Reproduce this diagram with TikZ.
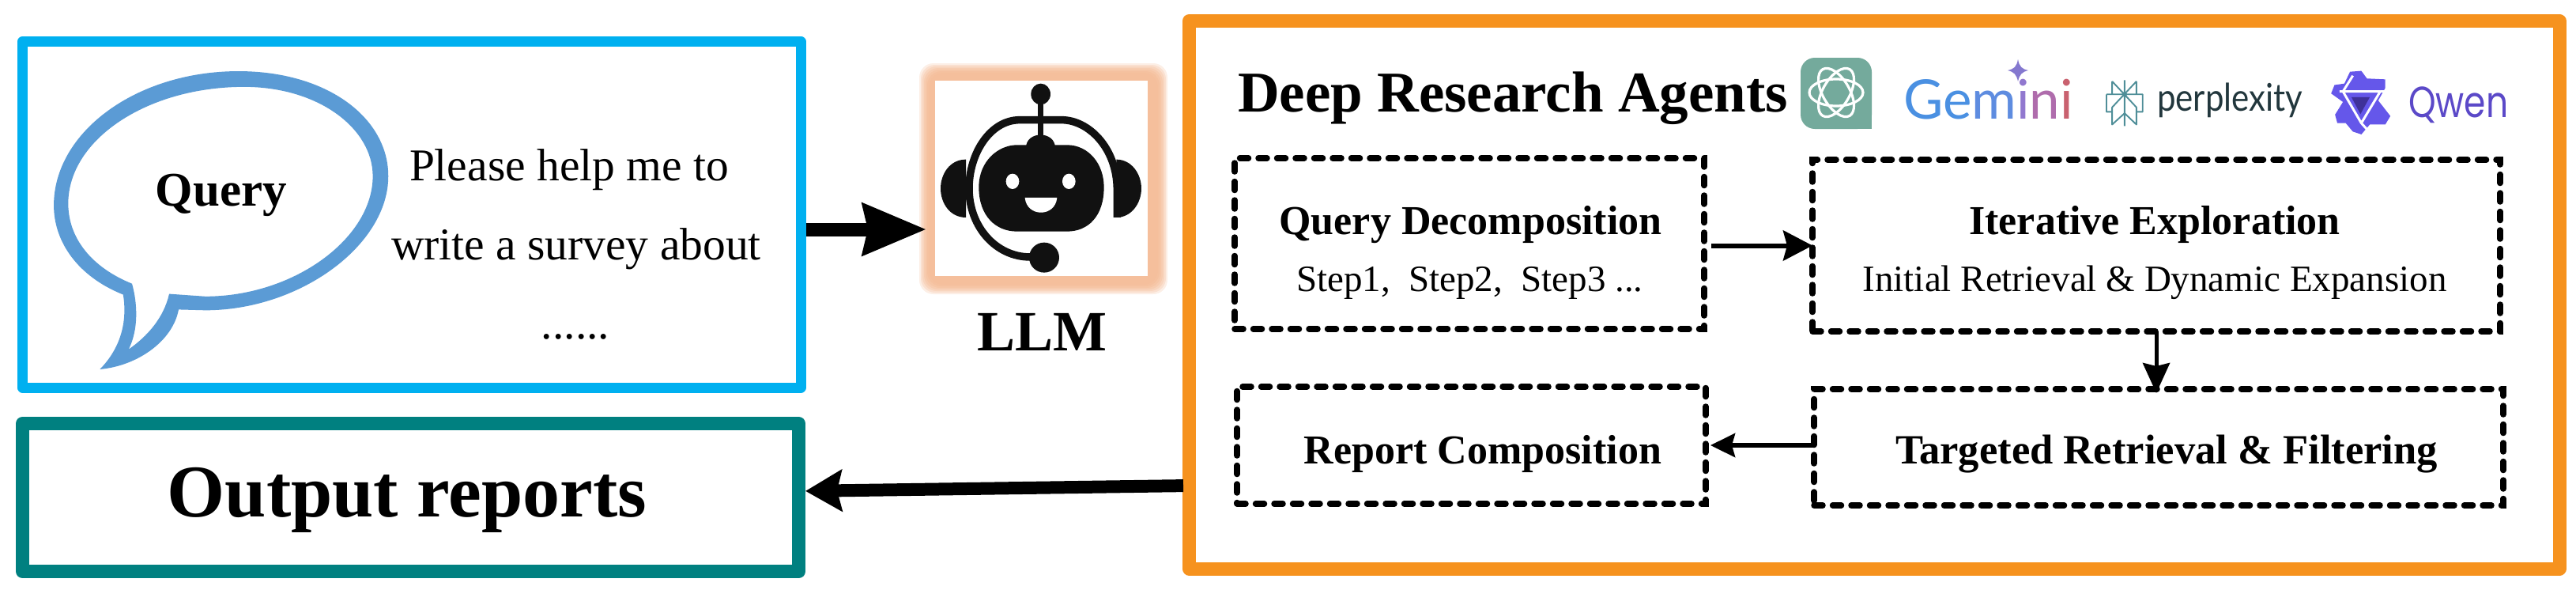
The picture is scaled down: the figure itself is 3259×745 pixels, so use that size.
\documentclass[tikz,border=0pt]{standalone}
\usepackage{fontspec}
\usepackage{graphicx}
\setmainfont{Liberation Serif}
\newfontfamily\lato{Lato}
\newfontfamily\popp{Poppins}
\usetikzlibrary{arrows.meta}
\newcommand\fsz[1]{\fontsize{#1}{#1}\selectfont}
\definecolor{qblue}{HTML}{00B0F0}
\definecolor{qgreen}{HTML}{008080}
\definecolor{qorange}{HTML}{F6921E}
\definecolor{bubble}{HTML}{5B9BD5}
\definecolor{halo}{HTML}{F5BF9C}
\definecolor{robot}{HTML}{111111}
\definecolor{gptc}{HTML}{74AA9C}
\definecolor{perpc}{HTML}{22373D}
\definecolor{perpi}{HTML}{4F8E98}
\definecolor{qwenc}{HTML}{6557EA}
\definecolor{qwent}{HTML}{5B49C8}
\definecolor{qwend}{HTML}{3F3199}
\definecolor{gemstar}{HTML}{8478CF}
\tikzset{
  panel/.style={draw=#1,rectangle,fill=white,inner sep=0,outer sep=0,line join=round},
  dashbox/.style={draw=black,rectangle,inner sep=0,outer sep=0,line width=7.5pt,line cap=round,dash pattern=on 11pt off 12.5pt},
  txt/.style={inner sep=0,outer sep=0,anchor=base},
  txtl/.style={inner sep=0,outer sep=0,anchor=base west},
  bigarrow/.style={line width=17pt,-{Stealth[length=80pt,width=64pt,inset=6pt]}},
  retarrow/.style={line width=16pt,-{Stealth[length=46pt,width=52pt,inset=6pt]}},
  smallarrow/.style={line width=6pt,-{Stealth[length=37pt,width=38pt,inset=5pt]}},
  downarrow/.style={line width=5pt,-{Stealth[length=38pt,width=34pt,inset=4pt]}},
  leftarrow/.style={line width=5.5pt,-{Stealth[length=31pt,width=30pt,inset=4pt]}},
}
\begin{document}
\begin{tikzpicture}[x=1pt,y=-1pt]
\useasboundingbox (0,0) rectangle (3259,745);

% panels
\node[panel=qblue,line width=13pt,minimum width=984.5pt,minimum height=437.5pt] (query) at (520.75,271.25) {};
\node[panel=qgreen,line width=17pt,minimum width=982pt,minimum height=187pt] (output) at (519.5,629) {};
\node[panel=qorange,line width=17pt,minimum width=1733.5pt,minimum height=692.5pt] (agents) at (2371.25,372.75) {};

% speech bubble
\begin{scope}[xscale=0.7018,yscale=0.4608,shift={(0,43.4)}]
\fill[bubble,even odd rule]
 (180,970) .. controls (225,900) and (228,820) .. (222,765)
 .. controls (140,715) and (97,620) .. (97,520)
 .. controls (97,320) and (245,152) .. (430,152)
 .. controls (590,152) and (700,280) .. (700,440)
 .. controls (700,630) and (540,808) .. (370,808)
 -- (322,806) .. controls (312,890) and (250,960) .. (180,970) -- cycle
 (232,915) .. controls (250,860) and (248,790) .. (238,735)
 .. controls (165,690) and (123,610) .. (123,515)
 .. controls (123,340) and (265,195) .. (440,195)
 .. controls (575,195) and (672,310) .. (672,440)
 .. controls (672,610) and (530,770) .. (370,770)
 -- (305,763) .. controls (295,830) and (265,880) .. (232,915) -- cycle;
\end{scope}

\node[txt,font=\fsz{61}\bfseries] (qlabel) at (280,260) {Query};
\node[txtl,font=\fsz{57.5}] (q1) at (518,228) {Please help me to};
\node[txtl,font=\fsz{57.5}] (q2) at (495,328) {write a survey about};
\node[txt,font=\fsz{57.5}] (q3) at (728,428) {......};
\node[txt,font=\fsz{94}\bfseries] (outlabel) at (515,653) {Output reports};

% LLM halo and image
\foreach \e/\o in {0/0.25,2/0.3,4/0.35,6/0.4,8/0.5,10/0.7,12/1}{
  \fill[halo,opacity=\o,rounded corners=18pt] (1163+\e,80+\e) rectangle (1477-\e,372-\e);
}
\node[fill=white,inner sep=0,outer sep=0,minimum width=269pt,minimum height=247pt] (llm) at (1317.5,225.5) {};
\begin{scope}[shift={(1130,70)},xscale=0.3333,yscale=0.3333]
 \fill[robot] (560,147) ellipse [x radius=37,y radius=40];
 \draw[robot,line width=7pt] (560,170) -- (560,320);
 \fill[robot] (505,350) .. controls (505,285) and (615,285) .. (615,350) -- cycle;
 \fill[robot] (325,500) .. controls (325,400) and (400,340) .. (470,340) -- (660,340) .. controls (740,340) and (800,410) .. (800,500)
   .. controls (800,610) and (740,668) .. (660,668) -- (470,668) .. controls (390,668) and (325,610) .. (325,500) -- cycle;
 \fill[white] (453,478) ellipse [x radius=25,y radius=29];
 \fill[white] (667,478) ellipse [x radius=25,y radius=29];
 \fill[white] (500,540) -- (622,540) .. controls (615,615) and (507,615) .. (500,540) -- cycle;
 \draw[robot,line width=9.5pt] (850,615) -- (850,510) .. controls (850,350) and (740,245) .. (640,245) -- (480,245)
   .. controls (370,245) and (288,370) .. (288,505) .. controls (288,650) and (390,765) .. (520,765) -- (560,765);
 \fill[robot] (276,395) .. controls (215,395) and (180,450) .. (180,505) .. controls (180,560) and (215,615) .. (276,615) -- cycle;
 \fill[robot] (847,395) .. controls (905,395) and (942,450) .. (942,505) .. controls (942,560) and (905,615) .. (847,615) -- cycle;
 \fill[robot] (573,767) circle (57);
\end{scope}
\node[txt,font=\fsz{72}\bfseries] (llmlabel) at (1318,443) {LLM};

% title
\node[txtl,font=\fsz{73}\bfseries] (title) at (1566,141) {Deep Research Agents};

% ChatGPT logo
\fill[gptc,rounded corners=18pt] (2278,73) rectangle (2368,163);
\fill[gptc] (2345,140) rectangle (2368,163);
\foreach \r in {0,60,120}{
  \draw[white,line width=3.2pt,rotate around={\r:(2323,117)}] (2323,117) ellipse [x radius=34,y radius=17];
}
% Gemini logo
\node[txtl,font=\fsz{69}\lato] (gemini) at (2408,150) {\textcolor[HTML]{4A90E2}{Ge}\textcolor[HTML]{5E8CE0}{m}\textcolor[HTML]{9178CF}{i}\textcolor[HTML]{AF6CAC}{n}\textcolor[HTML]{C9616F}{i}};
\fill[gemstar] (2553,75) .. controls (2555,85) and (2558,87) .. (2566,89) .. controls (2558,91) and (2555,94) .. (2553,103)
  .. controls (2551,94) and (2548,91) .. (2540,89) .. controls (2548,87) and (2551,85) .. (2553,75) -- cycle;
% Perplexity logo
\begin{scope}[shift={(2650,70)},xscale=0.357,yscale=0.357]
 \draw[perpi,line width=1.9pt,line join=round]
   (106,88) -- (106,250)
   (62,92) -- (148,184) -- (148,245) -- (106,205) -- (62,245) -- (62,184) -- (148,92)
   (62,92) -- (62,138) (148,92) -- (148,138)
   (42,138) -- (170,138) -- (170,200) -- (148,200)
   (42,138) -- (42,200) -- (62,200);
 \fill[perpi] (106,138) circle (9);
\end{scope}
\node[txtl,font=\fsz{42}\lato,text=perpc] (perp) at (2729,140) {\scalebox{1}[1.15]{perplexity}};
% Qwen logo
\begin{scope}[shift={(2650,70)},xscale=0.357,yscale=0.357]
 \fill[qwenc,line join=round] (905,58) -- (945,55) -- (965,82) -- (1030,85) -- (1030,115) -- (1005,160) -- (1048,215) -- (1030,245) -- (975,245) -- (945,280)
   -- (915,270) -- (890,240) -- (860,240) -- (852,210) -- (880,165) -- (838,135) -- (850,105) -- (885,100) -- cycle;
 \draw[white,line width=3pt,line join=round] (915,72) -- (880,128) -- (945,240) -- (1012,128) -- (868,128);
 \draw[white,line width=3pt,line join=round] (1012,128) -- (1035,128)  (945,240) -- (965,262);
 \fill[qwend] (910,148) -- (975,148) -- (942,208) -- cycle;
\end{scope}
\node[txtl,font=\fsz{44}\popp,text=qwent] (qwen) at (3047,148) {\scalebox{1}[1.25]{Qwen}};

% dashed boxes
\node[dashbox,minimum width=594pt,minimum height=216pt] (decomp) at (1859,308) {};
\node[dashbox,minimum width=870pt,minimum height=217pt] (explore) at (2728,310.5) {};
\node[dashbox,minimum width=593pt,minimum height=148pt] (report) at (1861.5,563) {};
\node[dashbox,minimum width=872pt,minimum height=147pt] (target) at (2731,565.5) {};

\node[txtl,font=\fsz{52}\bfseries] (d1) at (1618.5,296) {Query Decomposition};
\node[txtl,font=\fsz{47}] (d2) at (1640,368) {Step1,\ \ Step2,\ \ Step3 ...};
\node[txt,font=\fsz{52}\bfseries] (e1) at (2726,296) {Iterative Exploration};
\node[txt,font=\fsz{47}] (e2) at (2726,368) {Initial Retrieval \& Dynamic Expansion};
\node[txt,font=\fsz{52}\bfseries] (r1) at (1876,586) {Report Composition};
\node[txt,font=\fsz{52.6}\bfseries] (t1) at (2741,586) {Targeted Retrieval \& Filtering};

% connectors
\coordinate (a1s) at (query.east |- 0,290);
\coordinate (a1e) at (1172,290);
\draw[bigarrow,shorten <=6.5pt] (a1s) -- (a1e);
\coordinate (a2s) at (agents.west |- 0,614);
\coordinate (a2e) at (output.east |- 0,621);
\draw[retarrow,shorten <=7.5pt,shorten >=8.5pt] (a2s) -- (a2e);
\draw[smallarrow,shorten <=9pt] (explore.west -| decomp.east) -- (explore.west);
\draw[downarrow,shorten >=-5pt] (explore.south) -- (explore.south |- target.north);
\coordinate (a5s) at (target.west |- report.east);
\draw[leftarrow,shorten >=6pt] (a5s) -- (report.east);
\end{tikzpicture}
\end{document}
